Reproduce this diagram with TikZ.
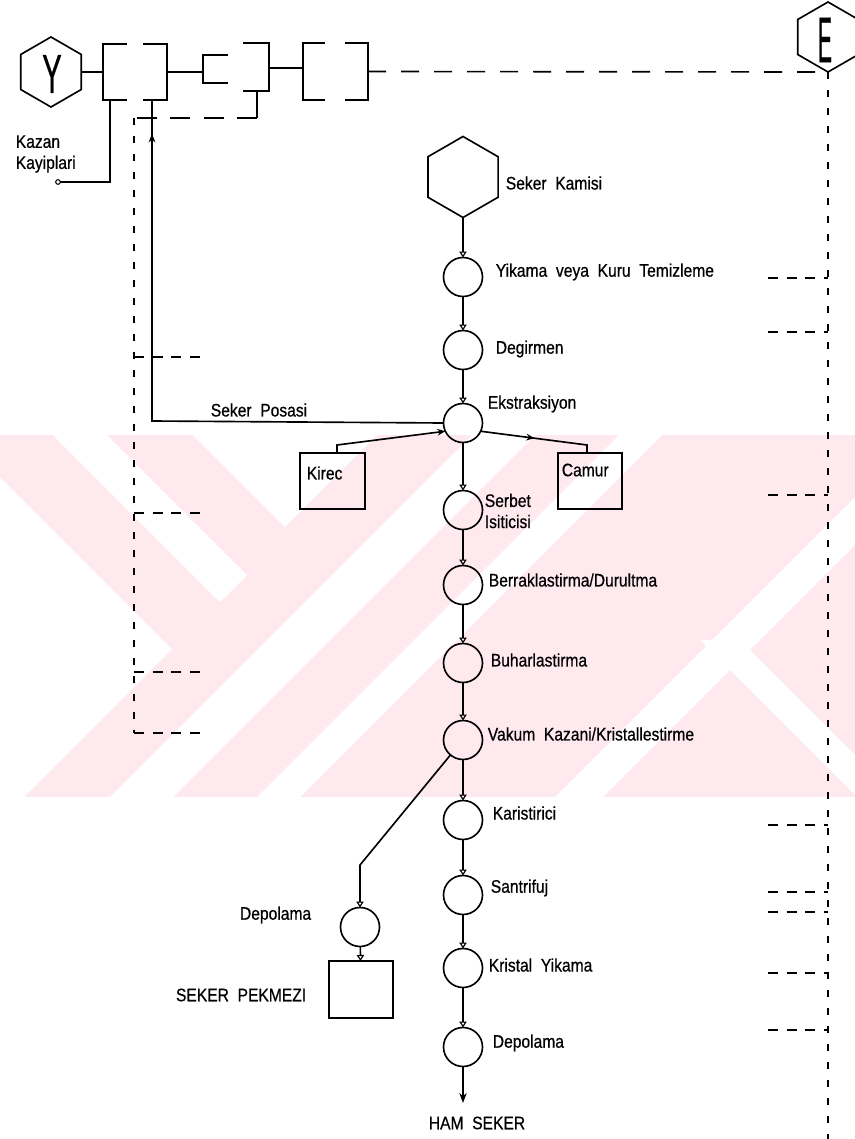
\documentclass[tikz,border=0pt]{standalone}
\usepackage{fontspec}
\usepackage{graphicx}
\setmainfont{Liberation Sans}[FakeStretch=0.86,FakeBold=0.6]
\usetikzlibrary{arrows.meta,shapes.geometric,decorations.markings,calc}
\definecolor{wm}{RGB}{253,233,238}
\begin{document}
\begin{tikzpicture}[x=0.3mm,y=-0.3mm,line width=1.4pt,
  proc/.style={circle,draw,minimum size=11.7mm,inner sep=0pt,outer sep=0pt},
  hexa/.style={regular polygon,regular polygon sides=6,shape border rotate=90,draw,inner sep=0pt,outer sep=0pt},
  boxn/.style={rectangle,draw,inner sep=0pt,outer sep=0pt},
  ghost/.style={rectangle,inner sep=0pt,outer sep=0pt},
  flow/.style={-{Triangle[open,length=1.8mm,width=2.2mm,line width=1pt]}},
  lbl/.style={font=\fontsize{15.5}{18}\selectfont,inner sep=0pt},
  vdash/.style={dash pattern=on 2.1mm off 3.3mm},
  hdash/.style={dash pattern=on 6mm off 4mm},
  sdash/.style={dash pattern=on 3mm off 2.6mm},
  ldash/.style={dash pattern=on 5.4mm off 4.5mm}]
\useasboundingbox (0,0) rectangle (855,1139);
% watermark
\begin{scope}
  \clip (0,435) rectangle (855,797);
  \fill[wm] (0,435) rectangle (855,797);
  \fill[white] (0,477) -- (172,649) -- (0,821) -- cycle;
  \fill[white] (53,435) -- (107,435) -- (247,575) -- (220,602) -- cycle;
  \fill[white] (193,435) -- (285,527) -- (377,435) -- cycle;
  \fill[white] (472,435) -- (535,435) -- (173,797) -- (110,797) -- cycle;
  \fill[white] (619,435) -- (662,435) -- (300,797) -- (257,797) -- cycle;
  \fill[white] (917,435) -- (965,435) -- (603,797) -- (555,797) -- cycle;
  \fill[white] (700,640) -- (740,640) -- (897,797) -- (857,797) -- cycle;
\end{scope}
% top equipment
\node[hexa,minimum size=21mm] (Y) at (51,72) {};
\node at (52,74) {\scalebox{0.62}[1]{\fontsize{47}{47}\selectfont Y}};
\node[hexa,minimum size=21mm] (E) at (828,37) {};
\node at (825,40) {\scalebox{0.38}[1]{\fontsize{55}{55}\selectfont E}};
\node[ghost,minimum width=19.2mm,minimum height=16.8mm] (b1) at (135,72) {};
\draw (127,44) -| (103,100) -- (127,100);
\draw (143,44) -| (167,100) -- (143,100);
\node[ghost,minimum width=19.8mm,minimum height=14.4mm] (mx) at (236,68) {};
\draw (228,55) -| (203,83) -- (228,83);
\draw (243,43) -| (269,91) -- (243,91);
\node[ghost,minimum width=19.5mm,minimum height=17.1mm] (b3) at (335.5,71.5) {};
\draw (325,43) -| (303,100) -- (325,100);
\draw (345,43) -| (368,100) -- (345,100);
\draw (Y.east) -- (Y.east -| b1.west);
\draw (b1.east) -- (b1.east -| mx.west);
\draw (mx.east) -- (mx.east -| b3.west);
\draw[ldash] (b3.east) -- (E.south);
\coordinate (Ebot) at (828,1145);
\draw[vdash] (E.south) -- (Ebot);
\foreach \yy in {278,332,495,825,892,912,973,1030}
  \draw[sdash] (768,\yy) -- (828,\yy);
% return loop (dashed)
\coordinate (r1) at (257,91);
\coordinate (r2) at (257,118);
\coordinate (r3) at (134,118);
\coordinate (r4) at (134,733);
\coordinate (r5) at (205,733);
\draw (r1) -- (r2);
\draw[hdash] (r2) -- (r3);
\draw[vdash] (r3) -- (r4);
\draw[sdash] (r4) -- (r5);
\foreach \yy in {357,513,672}
  \draw[sdash] (134,\yy) -- (205,\yy);
% kazan kayiplari
\coordinate (k1) at (110,100);
\coordinate (k2) at (110,182);
\coordinate (k3) at (60,182);
\draw (k1) -- (k2) -- (k3);
\draw[line width=0.9pt] (58,182) circle (0.7mm);
\node[lbl,anchor=west,align=left] (kazT) at (15,154) {Kazan\\Kayiplari};
% main column
\node[hexa,minimum size=24.3mm] (kam) at (463,177) {};
\node[proc] (yik) at (463,277) {};
\node[proc] (deg) at (463,350) {};
\node[proc] (eks) at (463,423) {};
\node[proc] (ser) at (463,510) {};
\node[proc] (ber) at (463,585) {};
\node[proc] (buh) at (463,663) {};
\node[proc] (vak) at (463,740) {};
\node[proc] (kar) at (463,820) {};
\node[proc] (san) at (463,895) {};
\node[proc] (kri) at (463,968) {};
\node[proc] (dep) at (463,1047) {};
\draw[flow] (kam.south) -- (yik);
\draw[flow] (yik) -- (deg);
\draw[flow] (deg) -- (eks);
\draw[flow] (eks) -- (ser);
\draw[flow] (ser) -- (ber);
\draw[flow] (ber) -- (buh);
\draw[flow] (buh) -- (vak);
\draw[flow] (vak) -- (kar);
\draw[flow] (kar) -- (san);
\draw[flow] (san) -- (kri);
\draw[flow] (kri) -- (dep);
\coordinate (hamA) at (463,1103);
\draw[-{Stealth[length=3mm,width=2.2mm]}] (dep) -- (hamA);
\node[lbl] (hamT) at (477,1123) {HAM\ \ SEKER};
% side boxes
\node[boxn,minimum width=19.5mm,minimum height=16.8mm] (kirec) at (332.5,481) {};
\node[lbl,anchor=west] (kirT) at (306,473) {Kirec};
\node[boxn,minimum width=19.2mm,minimum height=16.8mm] (camur) at (590,481) {};
\node[lbl,anchor=west] (camT) at (561,470) {Camur};
\coordinate (kr1) at (337,445);
\draw[-{Stealth[length=2.4mm,width=2mm]}] (kr1 |- kirec.north) -- (kr1) -- (eks.205);
\coordinate (cm1) at (587,445);
\draw[postaction={decorate},decoration={markings,mark=at position 0.47 with {\arrow{Stealth[length=2.4mm,width=2mm]}}}] (eks.335) -- (cm1) -- (cm1 |- camur.north);
% seker posasi return
\coordinate (sp1) at (152,421);
\coordinate (sp2) at (152,100);
\draw[postaction={decorate},decoration={markings,mark=at position 0.945 with {\arrow{Stealth[length=2.6mm,width=2mm]}}}] (eks.west) -- (sp1) -- (sp2);
\node[lbl,anchor=west] (posT) at (210,410) {Seker\ \ Posasi};
% side branch
\coordinate (vb) at (360,865);
\node[proc] (dep2) at (360,927) {};
\node[boxn,minimum width=19.2mm,minimum height=17.1mm] (pek) at (361,989.5) {};
\draw[flow] (vak.230) -- (vb) -- (dep2);
\draw[flow] (dep2) -- (pek);
\node[lbl,anchor=east] (dep2T) at (312,915) {Depolama};
\node[lbl,anchor=east] (pekT) at (307,995) {SEKER\ \ PEKMEZI};
% labels
\node[lbl,anchor=west] (kamT) at (505,183) {Seker\ \ Kamisi};
\node[lbl,anchor=west] (yikT) at (495,272) {Yikama\ \ veya\ \ Kuru\ \ Temizleme};
\node[lbl,anchor=west] (degT) at (495,349) {Degirmen};
\node[lbl,anchor=west] (eksT) at (487,404) {Ekstraksiyon};
\node[lbl,anchor=west,align=left] (serT) at (484,511) {Serbet\\Isiticisi};
\node[lbl,anchor=west] (berT) at (488,580) {Berraklastirma/Durultma};
\node[lbl,anchor=west] (buhT) at (490,660) {Buharlastirma};
\node[lbl,anchor=west] (vakT) at (487,734) {Vakum\ \ Kazani/Kristallestirme};
\node[lbl,anchor=west] (karT) at (492,813) {Karistirici};
\node[lbl,anchor=west] (sanT) at (490,888) {Santrifuj};
\node[lbl,anchor=west] (kriT) at (488,965) {Kristal\ \ Yikama};
\node[lbl,anchor=west] (depT) at (492,1043) {Depolama};
\end{tikzpicture}
\end{document}
